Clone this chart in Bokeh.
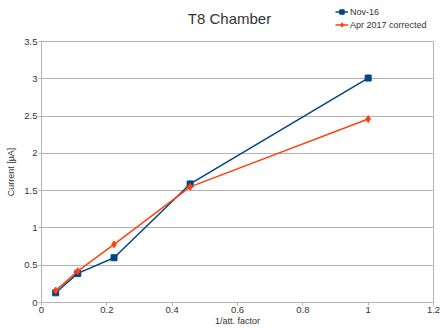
from bokeh.plotting import figure
from bokeh.layouts import column
from bokeh.models import Range1d, Legend, LegendItem, Label, FixedTicker
from bokeh.embed import file_html
from bokeh.resources import INLINE

x_vals = [0.0435, 0.111, 0.222, 0.455, 1.0]
nov16 = [0.13, 0.39, 0.60, 1.59, 3.01]
apr17 = [0.16, 0.42, 0.78, 1.55, 2.46]
x_ticks = [0, 0.2, 0.4, 0.6, 0.8, 1.0, 1.2]
y_ticks = [0, 0.5, 1, 1.5, 2, 2.5, 3, 3.5]
series_names = ["Nov-16", "Apr 2017 corrected"]
colors = ["#004586", "#ff420e"]

FONT = "Liberation Sans"
GRID = "#b3b3b3"
TXT = "#333333"
TOP_H = 35
SQ = 6
DI = 7

# ---- header figure: title + legend (its renderers sit outside its visible range) ----
top = figure(width=440, height=TOP_H, output_backend="svg", toolbar_location=None,
             x_range=Range1d(-3, -2), y_range=Range1d(-3, -2),
             x_axis_location=None, y_axis_location=None,
             min_border=0, min_border_left=0, min_border_right=0,
             min_border_top=0, min_border_bottom=0)
top.grid.visible = False
top.outline_line_color = None

h1l = top.line(x_vals, nov16, line_color=colors[0], line_width=1.5)
h1m = top.scatter(x_vals, nov16, marker="square", size=SQ, fill_color=colors[0], line_color=colors[0])
h2l = top.line(x_vals, apr17, line_color=colors[1], line_width=1.5)
h2m = top.scatter(x_vals, apr17, marker="diamond", size=DI, fill_color=colors[1], line_color=colors[1])

legend = Legend(items=[LegendItem(label=series_names[0], renderers=[h1l, h1m]),
                       LegendItem(label=series_names[1], renderers=[h2l, h2m])],
                location=(294, 5), orientation="vertical",
                label_text_font=FONT, label_text_font_size="9px", label_text_color=TXT,
                border_line_color=None, background_fill_alpha=0,
                glyph_width=13, glyph_height=11, label_standoff=2, spacing=2,
                padding=0, margin=0, label_height=11)
top.add_layout(legend, "center")

title = Label(x=188, y=TOP_H - 18, x_units="screen", y_units="screen", text="T8 Chamber",
              text_font=FONT, text_font_size="15px", text_align="center",
              text_baseline="middle", text_color=TXT)
top.add_layout(title)

# ---- main chart ----
p = figure(width=440, height=328 - TOP_H, output_backend="svg", toolbar_location=None,
           x_range=Range1d(0, 1.2), y_range=Range1d(0, 3.5),
           min_border_left=41, min_border_right=7, min_border_top=41 - TOP_H,
           min_border_bottom=25)

p.xaxis.ticker = FixedTicker(ticks=x_ticks)
p.yaxis.ticker = FixedTicker(ticks=y_ticks)
for ax in (p.xaxis[0], p.yaxis[0]):
    ax.axis_line_color = GRID
    ax.major_tick_line_color = GRID
    ax.major_tick_out = 3
    ax.major_tick_in = 0
    ax.minor_tick_line_color = None
    ax.major_label_text_font = FONT
    ax.major_label_text_font_size = "9.5px"
    ax.major_label_text_color = TXT
    ax.axis_label_text_font = FONT
    ax.axis_label_text_font_size = "9px"
    ax.axis_label_text_font_style = "normal"
    ax.axis_label_text_color = TXT
p.xaxis.axis_label = "1/att. factor"
p.yaxis.axis_label = "Current [µA]"
p.xaxis.major_label_standoff = 1
p.yaxis.major_label_standoff = 1
p.xaxis.axis_label_standoff = 0
p.yaxis.axis_label_standoff = 5

p.xgrid.grid_line_color = None
p.ygrid.grid_line_color = GRID
p.ygrid.grid_line_width = 1
p.outline_line_color = GRID
p.outline_line_alpha = 1

p.line(x_vals, nov16, line_color=colors[0], line_width=1.5)
p.scatter(x_vals, nov16, marker="square", size=SQ, fill_color=colors[0], line_color=colors[0])
p.line(x_vals, apr17, line_color=colors[1], line_width=1.5)
p.scatter(x_vals, apr17, marker="diamond", size=DI, fill_color=colors[1], line_color=colors[1])

layout = column(top, p, spacing=0)
open("out.html", "w").write(file_html(layout, INLINE))
